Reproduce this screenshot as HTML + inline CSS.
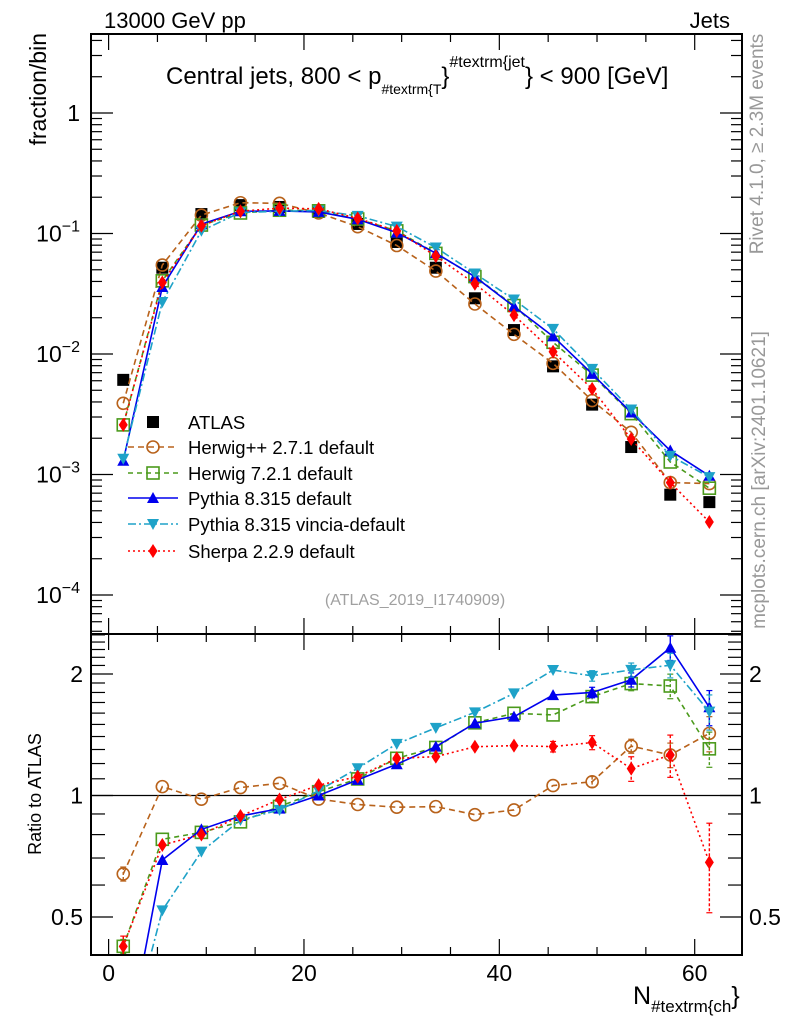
<!DOCTYPE html>
<html><head><meta charset="utf-8"><style>
html,body{margin:0;padding:0;background:#fff;}
svg{display:block;font-family:"Liberation Sans",sans-serif;}
</style></head><body>
<svg id="chart" width="786" height="1024" viewBox="0 0 786 1024" xmlns="http://www.w3.org/2000/svg">
<g id="main"></g>
<g id="ratio"></g>
<g id="axes"></g>
<text x="104" y="28" font-size="22">13000 GeV pp</text>
<text x="730" y="28" font-size="22" text-anchor="end">Jets</text>
<text x="166" y="84" font-size="24">Central jets, 800 &lt; p<tspan font-size="14" dy="10">#textrm{T</tspan><tspan font-size="24" dy="-10">}</tspan><tspan font-size="16" dy="-17">#textrm{jet</tspan><tspan font-size="24" dy="17">} &lt; 900 [GeV]</tspan></text>
<text transform="translate(46,33) rotate(-90)" font-size="23" text-anchor="end">fraction/bin</text>
<text transform="translate(41,794) rotate(-90)" font-size="18" text-anchor="middle">Ratio to ATLAS</text>
<text x="415" y="605" font-size="16" fill="#a0a0a0" text-anchor="middle">(ATLAS_2019_I1740909)</text>
<text transform="translate(763,144) rotate(-90)" font-size="19" fill="#999" text-anchor="middle">Rivet 4.1.0, ≥ 2.3M events</text>
<text transform="translate(765,480) rotate(-90)" font-size="19" fill="#999" text-anchor="middle">mcplots.cern.ch [arXiv:2401.10621]</text>
<text x="633" y="1004" font-size="25">N<tspan font-size="17" dy="8">#textrm{ch</tspan><tspan font-size="25" dy="-8">}</tspan></text>
<g id="legend"></g>
</svg>
<script>
const binCenters=[1.5,5.5,9.5,13.5,17.5,21.5,25.5,29.5,33.5,37.5,41.5,45.5,49.5,53.5,57.5,61.5];
const atlasValues=[0.0061,0.052,0.145,0.172,0.166,0.151,0.12,0.085,0.052,0.029,0.0158,0.0079,0.0038,0.00169,0.00068,0.00059];
const herwigppValues=[0.0039,0.0547,0.142,0.180,0.178,0.148,0.114,0.0795,0.0488,0.0260,0.01455,0.00836,0.00411,0.00224,0.000857,0.000841];
const herwig7Values=[0.00258,0.0405,0.1175,0.148,0.156,0.1543,0.1319,0.1051,0.0684,0.0439,0.02525,0.01251,0.00668,0.0032,0.00127,0.00077];
const pythiaValues=[0.0013,0.036,0.1195,0.153,0.154,0.151,0.1312,0.1016,0.0687,0.0438,0.02477,0.01401,0.00684,0.00327,0.00158,0.000976];
const vinciaValues=[0.00135,0.027,0.1053,0.1496,0.1529,0.1552,0.1402,0.1141,0.0765,0.0466,0.0283,0.01616,0.00752,0.00346,0.00143,0.000952];
const sherpaValues=[0.00258,0.0392,0.1161,0.153,0.1623,0.1602,0.1336,0.1051,0.0649,0.0383,0.021,0.01044,0.00514,0.00197,0.000857,0.000403];
const relErrors=[0.04,0.01,0.005,0.005,0.005,0.005,0.005,0.005,0.01,0.01,0.015,0.02,0.03,0.04,0.07,0.1];
const sherpaRelErrors=[0.06,0.01,0.005,0.005,0.005,0.005,0.01,0.01,0.01,0.015,0.02,0.03,0.04,0.07,0.12,0.25];
const xTickLabels=[0,20,40,60];
const yTickLabels=["1","10^−1","10^−2","10^−3","10^−4"];
const yTickValues=[1,0.1,0.01,0.001,0.0001];
const ratioTickValues=[0.5,1,2];
const seriesNames=["Herwig++ 2.7.1 default","Herwig 7.2.1 default","Pythia 8.315 default","Pythia 8.315 vincia-default","Sherpa 2.2.9 default"];

const NS="http://www.w3.org/2000/svg";
const L=91,R=742,T=34,MB=634,RB=955;
function xs(v){return 108.6+(v)*(694.7-108.6)/60;}
function ys(v){return 113-120.5*Math.log10(v);}
function yr(v){return 795.5-121.5*Math.log2(v);}
function mk(tag,attrs,parent){const e=document.createElementNS(NS,tag);for(const k in attrs)e.setAttribute(k,attrs[k]);parent.appendChild(e);return e;}
const main=document.getElementById('main'),ratio=document.getElementById('ratio'),axes=document.getElementById('axes'),legend=document.getElementById('legend');

const series=[
 {vals:herwigppValues,err:relErrors,color:"#b8621b",dash:"6,4",marker:"circle",key:"herwigpp"},
 {vals:herwig7Values,err:relErrors,color:"#4b9a1c",dash:"5,4",marker:"square",key:"herwig7"},
 {vals:pythiaValues,err:relErrors,color:"#0000ee",dash:"",marker:"up",key:"pythia"},
 {vals:vinciaValues,err:relErrors,color:"#1ea2c8",dash:"8,3,2,3",marker:"down",key:"vincia"},
 {vals:sherpaValues,err:sherpaRelErrors,color:"#ff0000",dash:"2,3",marker:"diamond",key:"sherpa"}
];

function marker(g,type,x,y,c){
 let e;
 if(type==="circle")e=mk('circle',{cx:x,cy:y,r:6,fill:"none",stroke:c,"stroke-width":1.6},g);
 else if(type==="square")e=mk('rect',{x:x-6,y:y-6,width:12,height:12,fill:"none",stroke:c,"stroke-width":1.6},g);
 else if(type==="up")e=mk('polygon',{points:`${x-6},${y+5} ${x+6},${y+5} ${x},${y-6}`,fill:c},g);
 else if(type==="down")e=mk('polygon',{points:`${x-6},${y-5} ${x+6},${y-5} ${x},${y+6}`,fill:c},g);
 else if(type==="diamond")e=mk('polygon',{points:`${x},${y-7} ${x+4.5},${y} ${x},${y+7} ${x-4.5},${y}`,fill:c},g);
 else e=mk('rect',{x:x-6,y:y-6,width:12,height:12,fill:c},g);
 return e;
}

const defs=mk('defs',{},document.getElementById('chart'));
const cp1=mk('clipPath',{id:'clipMain'},defs);mk('rect',{x:L,y:T,width:R-L,height:MB-T},cp1);
const cp2=mk('clipPath',{id:'clipRatio'},defs);mk('rect',{x:L,y:MB,width:R-L,height:RB-MB},cp2);
main.setAttribute('clip-path','url(#clipMain)');
ratio.setAttribute('clip-path','url(#clipRatio)');

const ref=mk('line',{x1:L,x2:R,y1:yr(1),y2:yr(1),stroke:"#000","stroke-width":1.3},ratio);



const ag=mk('g',{},main);


binCenters.forEach((b,i)=>{
 const m=marker(ag,"fsquare",xs(b),ys(atlasValues[i]),"#000");
 
 
});

series.forEach(s=>{
 const g=mk('g',{},main);
 
 
 const rg=mk('g',{},ratio);
 
 
 const pts=binCenters.map((b,i)=>xs(b)+","+ys(s.vals[i])).join(" ");
 const ln=mk('polyline',{points:pts,fill:"none",stroke:s.color,"stroke-width":1.6,"stroke-dasharray":s.dash},g);
 
 
 const rvals=s.vals.map((v,i)=>v/atlasValues[i]);
 const rpts=binCenters.map((b,i)=>xs(b)+","+yr(rvals[i])).join(" ");
 const rl=mk('polyline',{points:rpts,fill:"none",stroke:s.color,"stroke-width":1.6,"stroke-dasharray":s.dash},rg);
 
 
 binCenters.forEach((b,i)=>{
  const x=xs(b);
  const e=s.err[i];
  if(e>0.02){
   const eb=mk('line',{x1:x,x2:x,y1:yr(rvals[i]*(1+e)),y2:yr(rvals[i]*(1-e)),stroke:s.color,"stroke-width":1.4,"stroke-dasharray":s.dash?"3,2":""},rg);
   
   
   mk('line',{x1:x-3,x2:x+3,y1:yr(rvals[i]*(1+e)),y2:yr(rvals[i]*(1+e)),stroke:s.color,"stroke-width":1.2},rg);
   mk('line',{x1:x-3,x2:x+3,y1:yr(rvals[i]*(1-e)),y2:yr(rvals[i]*(1-e)),stroke:s.color,"stroke-width":1.2},rg);
  }
  const m=marker(g,s.marker,x,ys(s.vals[i]),s.color);
  
  
  const rm=marker(rg,s.marker,x,yr(rvals[i]),s.color);
  
  
 });
});

const f1=mk('rect',{x:L,y:T,width:R-L,height:MB-T,fill:"none",stroke:"#000","stroke-width":2},axes);


const f2=mk('rect',{x:L,y:MB,width:R-L,height:RB-MB,fill:"none",stroke:"#000","stroke-width":2},axes);



for(let v=0;v<=64;v+=5){
 const x=xs(v);const len=(v%20===0)?16:8;
 mk('line',{x1:x,x2:x,y1:T,y2:T+len,stroke:"#000","stroke-width":1.2},axes);
 mk('line',{x1:x,x2:x,y1:MB,y2:MB-len,stroke:"#000","stroke-width":1.2},axes);
 mk('line',{x1:x,x2:x,y1:MB,y2:MB+len,stroke:"#000","stroke-width":1.2},axes);
 mk('line',{x1:x,x2:x,y1:RB,y2:RB-len,stroke:"#000","stroke-width":1.2},axes);
}
xTickLabels.forEach(v=>{
 const t=mk('text',{x:xs(v),y:981,"font-size":23,"text-anchor":"middle"},axes);
 t.textContent=v;
 
 
});
for(let d=-5;d<=0;d++){
 for(let k=1;k<=9;k++){
  const v=k*Math.pow(10,d);const y=ys(v);
  if(y<T||y>MB)continue;
  const len=k===1?22:11;
  mk('line',{x1:L,x2:L+len,y1:y,y2:y,stroke:"#000","stroke-width":1.2},axes);
  mk('line',{x1:R,x2:R-len,y1:y,y2:y,stroke:"#000","stroke-width":1.2},axes);
 }
}
yTickValues.forEach((v,i)=>{
 const lab=yTickLabels[i];const y=ys(v)+8;
 const t=mk('text',{x:80,y:y,"font-size":23,"text-anchor":"end"},axes);
 
 
 if(lab==="1"){t.textContent="1";}
 else{const p=lab.split("^");t.textContent=p[0];const sp=mk('tspan',{dy:-10,"font-size":16},t);sp.textContent=p[1];}
});
for(let v=0.4;v<=2.55;v+=0.1){
 const y=yr(v);if(y<MB||y>RB)continue;
 const major=ratioTickValues.some(r=>Math.abs(r-v)<1e-6);
 const len=major?22:14;
 mk('line',{x1:L,x2:L+len,y1:y,y2:y,stroke:"#000","stroke-width":1.2},axes);
 mk('line',{x1:R,x2:R-len,y1:y,y2:y,stroke:"#000","stroke-width":1.2},axes);
}
ratioTickValues.forEach(v=>{
 const y=yr(v)+8;
 const t=mk('text',{x:83,y:y,"font-size":23,"text-anchor":"end"},axes);t.textContent=v;
 
 
 const t2=mk('text',{x:749,y:y,"font-size":23},axes);t2.textContent=v;
 
 
});

const legY=[422,447,473,498,524,551];
const la=mk('g',{},legend);


marker(la,"fsquare",153,legY[0],"#000");
const lt=mk('text',{x:188,y:legY[0]+7,"font-size":18.5},la);lt.textContent="ATLAS";
series.forEach((s,i)=>{
 const g=mk('g',{},legend);
 
 
 const y=legY[i+1];
 mk('line',{x1:128,x2:178,y1:y,y2:y,stroke:s.color,"stroke-width":1.6,"stroke-dasharray":s.dash},g);
 marker(g,s.marker,153,y,s.color);
 const t=mk('text',{x:188,y:y+7,"font-size":18.5},g);t.textContent=seriesNames[i];
});
</script>
</body></html>
